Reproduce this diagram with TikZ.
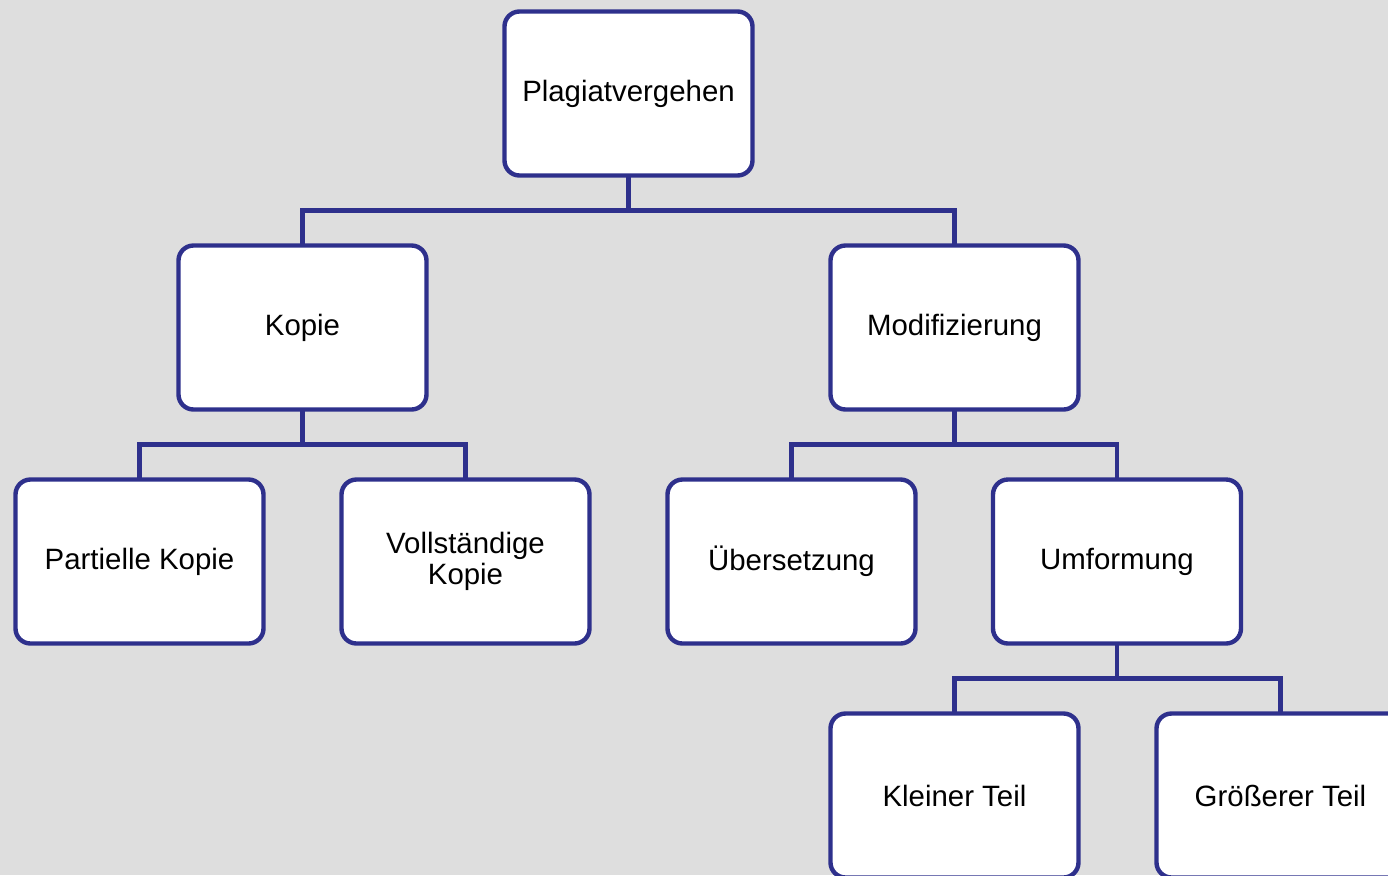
\documentclass[tikz,border=0pt]{standalone}
\usepackage{fontspec}
\setmainfont{Liberation Sans}
\usepackage{xcolor}
\usetikzlibrary{positioning}
\definecolor{boxblue}{RGB}{46,48,140}
\definecolor{bggray}{RGB}{222,222,222}
\tikzset{
  box/.style={draw=boxblue,fill=white,line width=2.2pt,rounded corners=7.5pt,
    minimum width=124pt,minimum height=82pt,inner sep=0pt,outer sep=0pt,
    align=center,font=\fontsize{14.7}{15.5}\selectfont},
  branch/.style={draw=boxblue,line width=2.2pt,
    to path={(\tikztostart) -- ++(0,-35) -| (\tikztotarget)}}
}
\begin{document}
\begin{tikzpicture}[x=0.5pt,y=0.5pt]
  \useasboundingbox (0,0) rectangle (1388,-875);
  \clip (0,0) rectangle (1388,-875);
  \fill[bggray] (0,0) rectangle (1388,-875);
  \node[box] (plag) at (628.5,-93.5) {Plagiatvergehen};
   \node[box] (kopie) at (302.5,-327.5) {Kopie};
   \node[box] (modif) at (954.5,-327.5) {Modifizierung};
    \node[box] (partiell) at (139.5,-561.5) {Partielle Kopie};
    \node[box] (voll) at (465.5,-561.5) {Vollständige\\Kopie};
    \node[box] (ueber) at (791.5,-561.5) {Übersetzung};
    \node[box] (umform) at (1117,-561.5) {Umformung};
    \node[box] (klein) at (954.5,-795.5) {Kleiner Teil};
    \node[box] (groesser) at (1280.5,-795.5) {Größerer Teil};
    \path (plag.south) edge[branch] (kopie.north);
    \path (plag.south) edge[branch] (modif.north);
    \path (kopie.south) edge[branch] (partiell.north);
    \path (kopie.south) edge[branch] (voll.north);
    \path (modif.south) edge[branch] (ueber.north);
    \path (modif.south) edge[branch] (umform.north);
    \path (umform.south) edge[branch] (klein.north);
    \path (umform.south) edge[branch] (groesser.north);

\end{tikzpicture}
\end{document}
